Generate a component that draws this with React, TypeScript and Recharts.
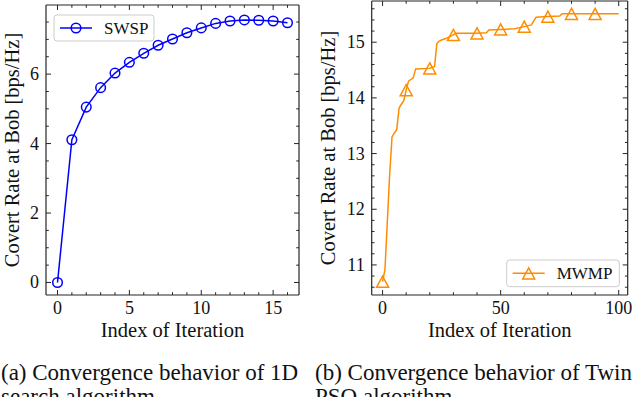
import React from 'react';
import { LineChart, Line, XAxis, YAxis } from 'recharts';

// ---------- data ----------
const swspIter = [0, 1, 2, 3, 4, 5, 6, 7, 8, 9, 10, 11, 12, 13, 14, 15, 16];
const swspRate = [0, 4.11, 5.05, 5.61, 6.03, 6.34, 6.6, 6.83, 7.01, 7.19, 7.33, 7.46, 7.53, 7.56, 7.55, 7.53, 7.48];

const mwmpIter = [0, 1, 2, 3, 4, 5, 6, 7, 8, 9, 10, 11, 12, 13, 14, 20, 21, 22, 23, 24, 25, 27, 28, 30, 31, 40, 44, 45, 50, 56, 60, 63, 65, 70, 75, 76, 80, 90, 100];
const mwmpRate = [10.7, 10.91, 11.76, 12.62, 13.3, 13.37, 13.43, 13.82, 13.89, 13.95, 14.14, 14.3, 14.33, 14.36, 14.52, 14.53, 14.55, 14.56, 14.98, 15.02, 15.04, 15.07, 15.09, 15.13, 15.16, 15.16, 15.17, 15.22, 15.23, 15.24, 15.28, 15.31, 15.45, 15.46, 15.47, 15.51, 15.51, 15.51, 15.51];
const mwmpMarkerIter = [0, 10, 20, 30, 40, 50, 60, 70, 80, 90];

const leftXTicks = [0, 1, 2, 3, 4, 5, 6, 7, 8, 9, 10, 11, 12, 13, 14, 15, 16];
const leftXLabels = [0, 5, 10, 15];
const leftYTicks = [0, 0.5, 1, 1.5, 2, 2.5, 3, 3.5, 4, 4.5, 5, 5.5, 6, 6.5, 7, 7.5];
const leftYLabels = [0, 2, 4, 6];
const rightXTicks = [0, 10, 20, 30, 40, 50, 60, 70, 80, 90, 100];
const rightXLabels = [0, 50, 100];
const rightYTicks = [10.6, 10.8, 11, 11.2, 11.4, 11.6, 11.8, 12, 12.2, 12.4, 12.6, 12.8, 13, 13.2, 13.4, 13.6, 13.8, 14, 14.2, 14.4, 14.6, 14.8, 15, 15.2, 15.4, 15.6];
const rightYLabels = [11, 12, 13, 14, 15];

const swspData = swspIter.map((x, i) => ({ x, y: swspRate[i] }));
const mwmpData = mwmpIter.map((x, i) => ({ x, y: mwmpRate[i], mark: mwmpMarkerIter.includes(x) }));

// ---------- style ----------
const SERIF = '"Liberation Serif", "Times New Roman", serif';
const FRAME = '#262626';
const BLUE = '#0000ff';
const ORANGE = '#ff8c00';
const TICK_FS = 18;
const LABEL_FS = 20.5;
const H = 340;

type Side = 'left' | 'right' | 'top' | 'bottom';

function makeTick(side: Side, edge: number, labels: number[]) {
  return (props: any) => {
    const { payload, index } = props;
    const v = payload.value;
    const isMajor = labels.some((l) => Math.abs(l - v) < 1e-6);
    const len = isMajor ? 5 : 2.8;
    const key = `t-${side}-${index}`;
    if (side === 'left' || side === 'right') {
      const c = payload.coordinate ?? props.y;
      const dir = side === 'left' ? 1 : -1;
      return (
        <g key={key}>
          <line x1={edge} x2={edge + dir * len} y1={c} y2={c} stroke={FRAME} strokeWidth={1} />
          {side === 'left' && isMajor ? (
            <text x={edge - 7} y={c + 6} textAnchor="end" fontFamily={SERIF} fontSize={TICK_FS} fill="#111">
              {String(v)}
            </text>
          ) : null}
        </g>
      );
    }
    const c = payload.coordinate ?? props.x;
    const dir = side === 'bottom' ? -1 : 1;
    return (
      <g key={key}>
        <line x1={c} x2={c} y1={edge} y2={edge + dir * len} stroke={FRAME} strokeWidth={1} />
        {side === 'bottom' && isMajor ? (
          <text x={c} y={edge + 19} textAnchor="middle" fontFamily={SERIF} fontSize={TICK_FS} fill="#111">
            {String(v)}
          </text>
        ) : null}
      </g>
    );
  };
}

const CircleDot = (props: any) => {
  const { cx, cy, index } = props;
  return <circle key={`c-${index}`} cx={cx} cy={cy} r={4.8} fill="none" stroke={BLUE} strokeWidth={1.5} />;
};

const triPath = (cx: number, cy: number, s: number) =>
  `M${cx},${cy - s}L${cx - s},${cy + s * 0.85}L${cx + s},${cy + s * 0.85}Z`;

const TriDot = (props: any) => {
  const { cx, cy, index, payload } = props;
  if (!payload || !payload.mark) return <g key={`tr-${index}`} />;
  return <path key={`tr-${index}`} d={triPath(cx, cy + 0.5, 6)} fill="none" stroke={ORANGE} strokeWidth={1.5} />;
};

function yLabel(x: number, y: number) {
  return () => (
    <text
      x={x}
      y={y}
      transform={`rotate(-90 ${x} ${y})`}
      textAnchor="middle"
      fontFamily={SERIF}
      fontSize={LABEL_FS}
      fill="#111"
    >
      Covert Rate at Bob [bps/Hz]
    </text>
  );
}

function xLabel(x: number, y: number) {
  return () => (
    <text x={x} y={y} textAnchor="middle" fontFamily={SERIF} fontSize={LABEL_FS} fill="#111">
      Index of Iteration
    </text>
  );
}

function legendBox(x: number, y: number, w: number, h: number, name: string, kind: 'circle' | 'tri') {
  return () => {
    const cy = y + h / 2;
    const lx1 = x + 6;
    const lx2 = x + 38;
    const mx = (lx1 + lx2) / 2;
    return (
      <g>
        <rect x={x} y={y} width={w} height={h} rx={3} ry={3} fill="#ffffff" fillOpacity={0.85} stroke="#cccccc" strokeWidth={1} />
        <line x1={lx1} x2={lx2} y1={cy} y2={cy} stroke={kind === 'circle' ? BLUE : ORANGE} strokeWidth={1.5} />
        {kind === 'circle' ? (
          <circle cx={mx} cy={cy} r={4.8} fill="none" stroke={BLUE} strokeWidth={1.5} />
        ) : (
          <path d={triPath(mx, cy + 0.5, 6)} fill="none" stroke={ORANGE} strokeWidth={1.5} />
        )}
        <text x={x + 50} y={cy + 6} fontFamily={SERIF} fontSize={17} fill="#111">
          {name}
        </text>
      </g>
    );
  };
}

// left chart: svg at page x 0, width 320; plot x 46..299, y 5..295
const LW = 320;
const L = { left: 46, right: 299, top: 5, bottom: 295 };
// right chart: svg at page x 310, width 330; plot page x 371.7..627.7 => local 61.7..317.7, y 1..295
const RX = 310;
const RW = 330;
const R = { left: 61.7, right: 317.7, top: 1, bottom: 295 };

const axisLine = { stroke: FRAME, strokeWidth: 1.2 };

function LeftChart() {
  return (
    <LineChart
      width={LW}
      height={H}
      data={swspData}
      margin={{ top: L.top - 1, right: LW - L.right - 1, left: 0, bottom: 0 }}
    >
      <XAxis
        xAxisId="b"
        dataKey="x"
        type="number"
        domain={[-0.8, 16.8]}
        allowDataOverflow
        ticks={leftXTicks}
        interval={0}
        height={H - L.bottom}
        tickSize={0}
        tickMargin={0}
        axisLine={axisLine}
        tickLine={false}
        tick={makeTick('bottom', L.bottom, leftXLabels)}
        label={xLabel((L.left + L.right) / 2, 336.5)}
      />
      <XAxis
        xAxisId="t"
        dataKey="x"
        type="number"
        orientation="top"
        domain={[-0.8, 16.8]}
        allowDataOverflow
        ticks={leftXTicks}
        interval={0}
        height={1}
        tickSize={0}
        tickMargin={0}
        axisLine={axisLine}
        tickLine={false}
        tick={makeTick('top', L.top, leftXLabels)}
        label={legendBox(54, 15, 100, 26, 'SWSP', 'circle')}
      />
      <YAxis
        yAxisId="l"
        type="number"
        domain={[-0.36, 7.99]}
        allowDataOverflow
        ticks={leftYTicks}
        interval={0}
        width={L.left}
        tickSize={0}
        tickMargin={0}
        axisLine={axisLine}
        tickLine={false}
        tick={makeTick('left', L.left, leftYLabels)}
        label={yLabel(19, (L.top + L.bottom) / 2)}
      />
      <YAxis
        yAxisId="r"
        orientation="right"
        type="number"
        domain={[-0.36, 7.99]}
        allowDataOverflow
        ticks={leftYTicks}
        interval={0}
        width={1}
        tickSize={0}
        tickMargin={0}
        axisLine={axisLine}
        tickLine={false}
        tick={makeTick('right', L.right, leftYLabels)}
      />
      <Line
        xAxisId="b"
        yAxisId="l"
        type="linear"
        dataKey="y"
        stroke={BLUE}
        strokeWidth={1.5}
        dot={CircleDot}
        activeDot={false}
        isAnimationActive={false}
      />
    </LineChart>
  );
}

function RightChart() {
  return (
    <LineChart
      width={RW}
      height={H}
      data={mwmpData}
      margin={{ top: R.top - 1, right: RW - R.right - 1, left: 0, bottom: 0 }}
    >
      <XAxis
        xAxisId="b"
        dataKey="x"
        type="number"
        domain={[-4.6, 103.8]}
        allowDataOverflow
        ticks={rightXTicks}
        interval={0}
        height={H - R.bottom}
        tickSize={0}
        tickMargin={0}
        axisLine={axisLine}
        tickLine={false}
        tick={makeTick('bottom', R.bottom, rightXLabels)}
        label={xLabel((R.left + R.right) / 2, 336.5)}
      />
      <XAxis
        xAxisId="t"
        dataKey="x"
        type="number"
        orientation="top"
        domain={[-4.6, 103.8]}
        allowDataOverflow
        ticks={rightXTicks}
        interval={0}
        height={1}
        tickSize={0}
        tickMargin={0}
        axisLine={axisLine}
        tickLine={false}
        tick={makeTick('top', R.top, rightXLabels)}
        label={legendBox(506.7 - RX, 260, 112.6, 26.7, 'MWMP', 'tri')}
      />
      <YAxis
        yAxisId="l"
        type="number"
        domain={[10.46, 15.74]}
        allowDataOverflow
        ticks={rightYTicks}
        interval={0}
        width={R.left}
        tickSize={0}
        tickMargin={0}
        axisLine={axisLine}
        tickLine={false}
        tick={makeTick('left', R.left, rightYLabels)}
        label={yLabel(334.5 - RX, (R.top + R.bottom) / 2)}
      />
      <YAxis
        yAxisId="r"
        orientation="right"
        type="number"
        domain={[10.46, 15.74]}
        allowDataOverflow
        ticks={rightYTicks}
        interval={0}
        width={1}
        tickSize={0}
        tickMargin={0}
        axisLine={axisLine}
        tickLine={false}
        tick={makeTick('right', R.right, rightYLabels)}
      />
      <Line
        xAxisId="b"
        yAxisId="l"
        type="linear"
        dataKey="y"
        stroke={ORANGE}
        strokeWidth={1.5}
        dot={TriDot}
        activeDot={false}
        isAnimationActive={false}
      />
    </LineChart>
  );
}

const captionStyle: React.CSSProperties = {
  position: 'absolute',
  fontFamily: SERIF,
  fontSize: 23,
  lineHeight: '24.5px',
  color: '#111',
  whiteSpace: 'nowrap',
};

export default function App() {
  return (
    <div
      style={{
        position: 'absolute',
        left: 0,
        top: 0,
        width: 640,
        height: 397,
        overflow: 'hidden',
        background: '#ffffff',
      }}
    >
      <div style={{ position: 'absolute', left: 0, top: 0 }}>
        <LeftChart />
      </div>
      <div style={{ position: 'absolute', left: RX, top: 0 }}>
        <RightChart />
      </div>
      <div style={{ ...captionStyle, left: 1, top: 360.7 }}>
        (a) Convergence behavior of 1D
        <br />
        search algorithm
      </div>
      <div style={{ ...captionStyle, left: 315, top: 360.7 }}>
        (b) Convergence behavior of Twin
        <br />
        PSO algorithm
      </div>
    </div>
  );
}
